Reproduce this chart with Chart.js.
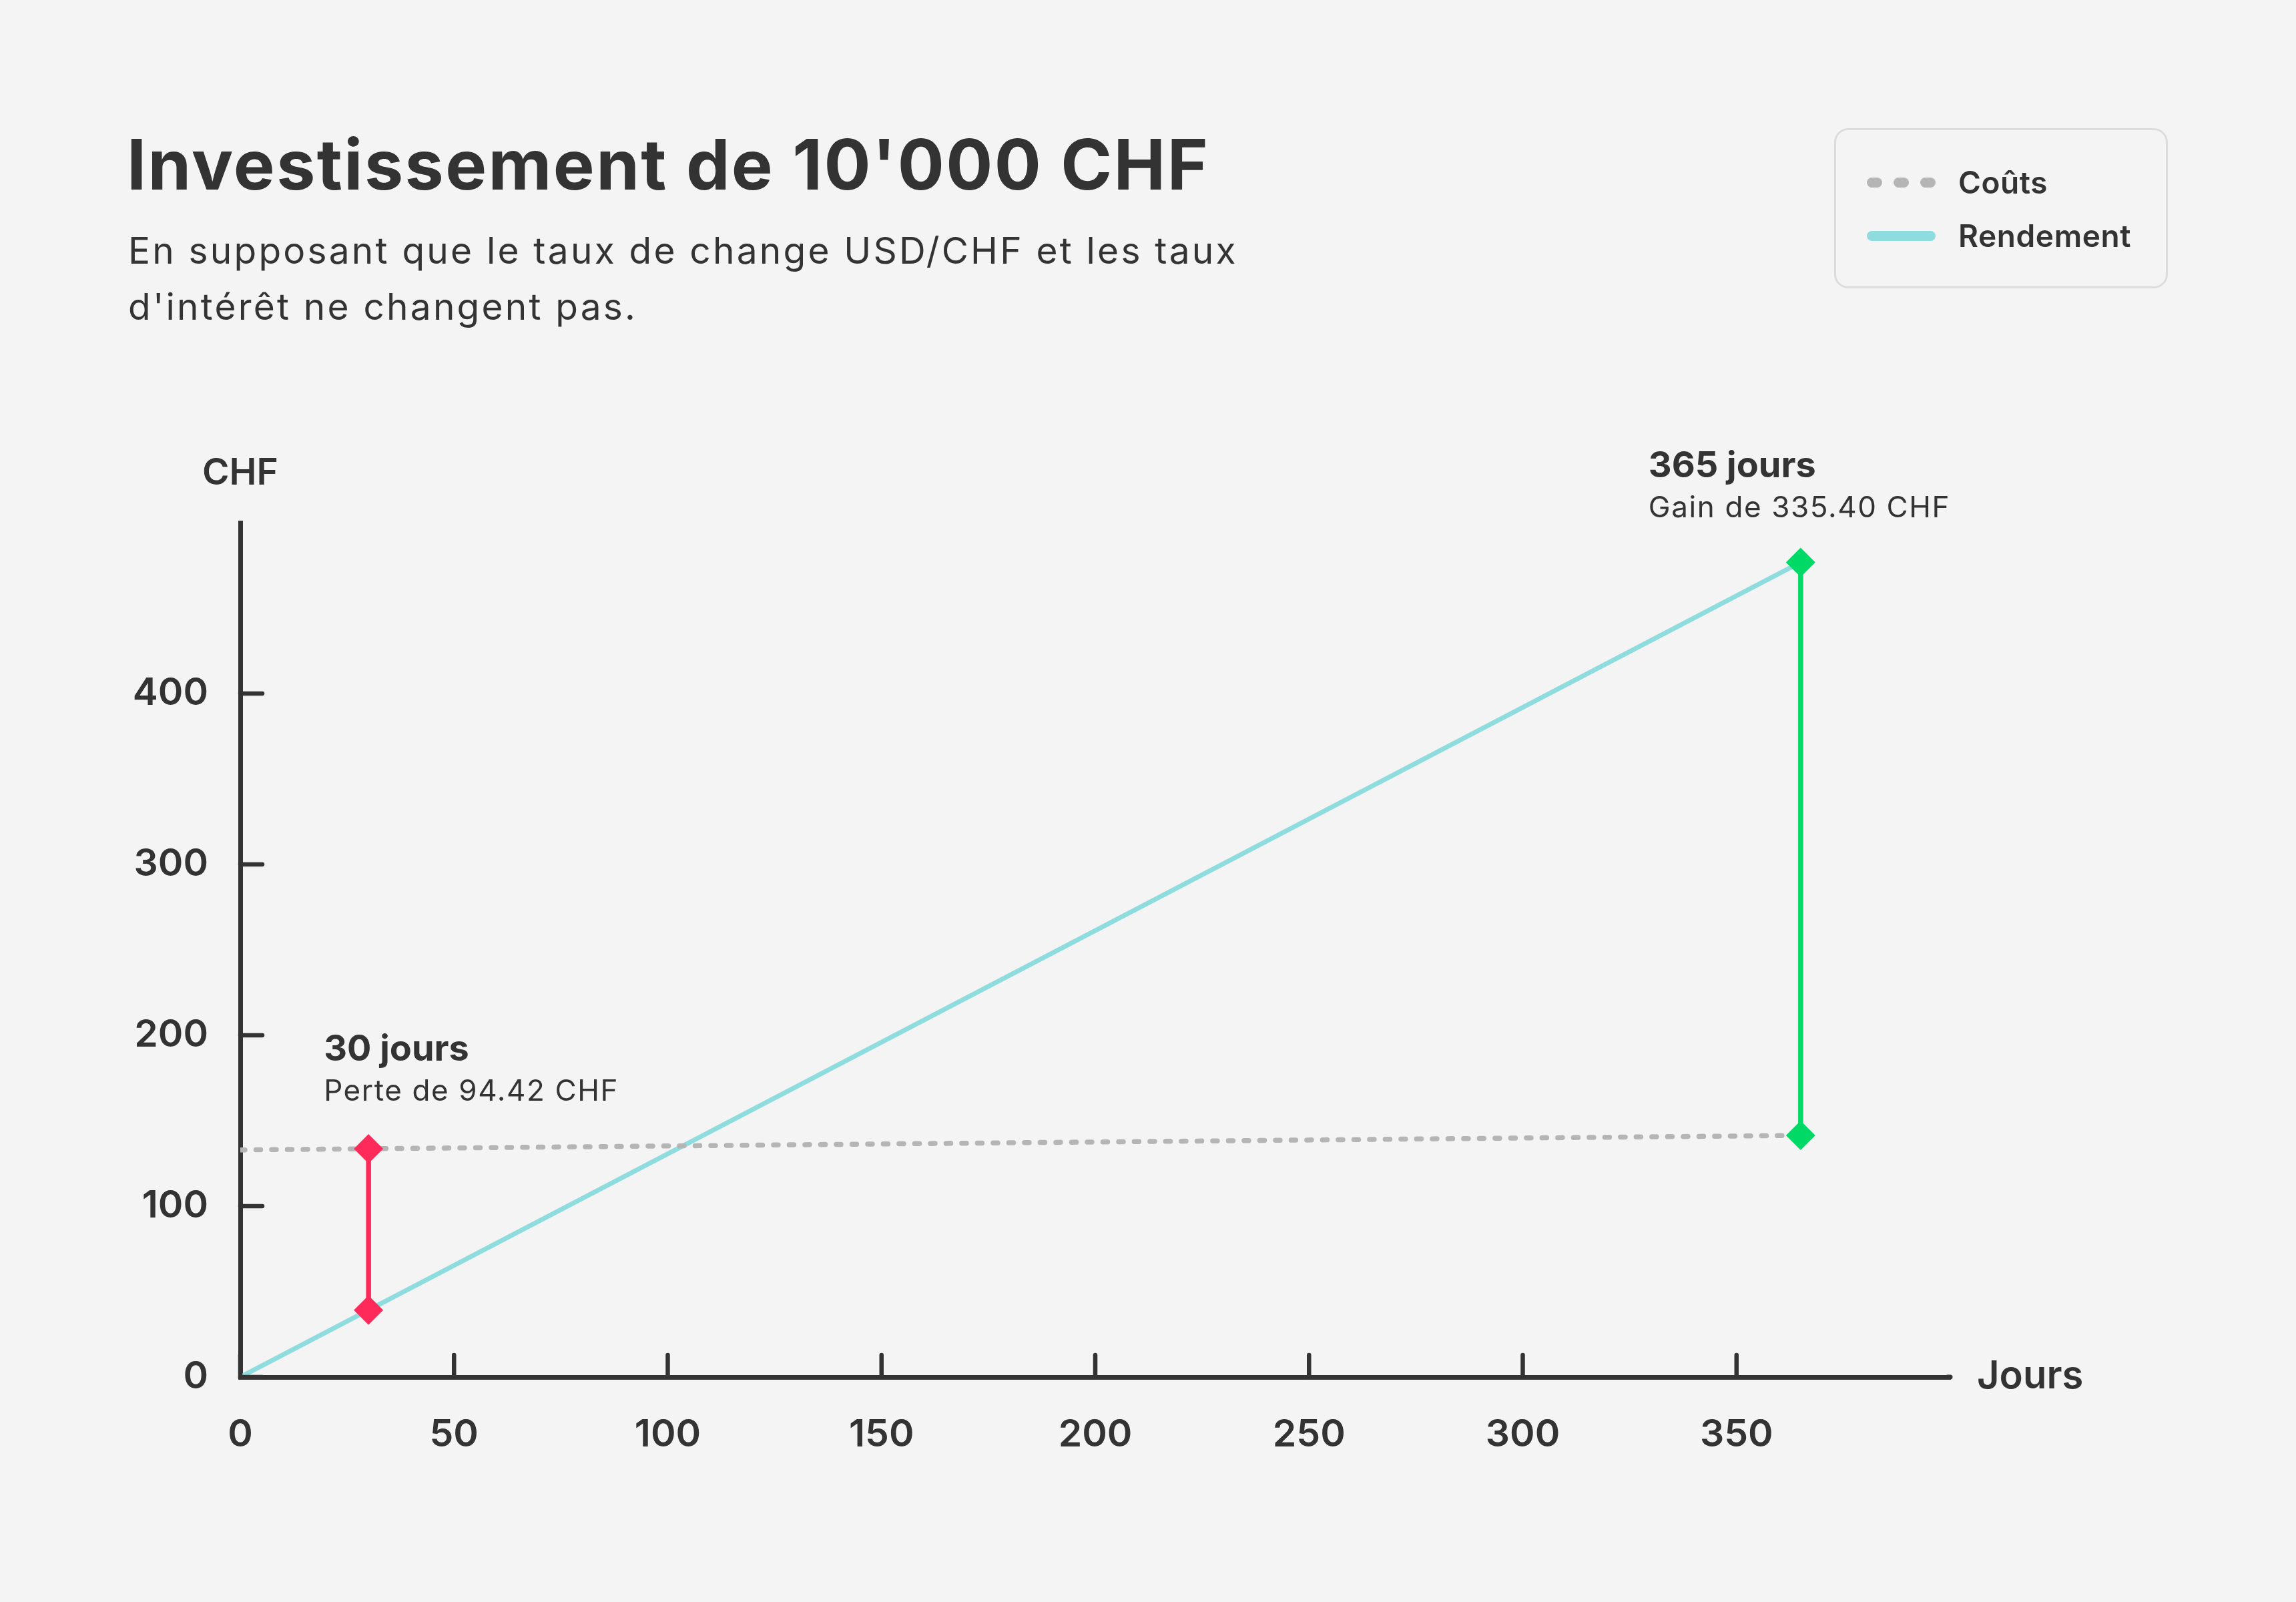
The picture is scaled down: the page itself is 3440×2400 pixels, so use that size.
<!DOCTYPE html>
<html lang="fr">
<head>
<meta charset="utf-8">
<title>Investissement de 10'000 CHF</title>
<script src="https://cdn.jsdelivr.net/npm/chart.js@4.4.1/dist/chart.umd.min.js"></script>
<style>
    html, body { margin: 0; padding: 0; }
    body {
        width: 3440px; height: 2400px; overflow: hidden;
        background: #f4f4f4; position: relative;
        font-family: Inter, 'Noto Sans', sans-serif; color: #333;
    }
    #myChart { position: absolute; left: 0; top: 0; }
    h1 {
        position: absolute; left: 190px; top: 194px; margin: 0; white-space: nowrap;
        font-size: 104px; line-height: 104px; font-weight: 700; letter-spacing: 2.4px;
    }
    .sub {
        position: absolute; left: 192px; top: 333px; margin: 0; width: 2000px;
        font-size: 55px; line-height: 84px; font-weight: 400; letter-spacing: 3.2px;
    }
    #legend {
        position: absolute; left: 2748px; top: 192px; width: 500px; height: 240px;
        box-sizing: border-box; border: 3px solid #dcdcdc; border-radius: 21px;
    }
    .item { position: absolute; left: 46px; height: 60px; display: flex; align-items: center; }
    .item span.txt {
        position: absolute; left: 137px; font-size: 46px; font-weight: 600;
        white-space: nowrap; letter-spacing: 0.6px;
    }
    .sym { position: absolute; left: 0; width: 103px; height: 15px; }
    .pill { position: absolute; top: 0; height: 15px; border-radius: 8px; }
</style>
</head>
<body>
<canvas id="myChart" width="3440" height="2400"></canvas>
<h1>Investissement de 10'000 CHF</h1>
<p class="sub">En supposant que le taux de change USD/CHF et les taux<br>d'intérêt ne changent pas.</p>
<div id="legend"></div>
<script>
// data
const days = [0, 30, 365];
const couts = [132.9, 133.6, 141.4];
const rendement = [0, 39.2, 476.8];
const perteDays = [30, 30];
const perteValues = [133.6, 39.2];
const gainDays = [365, 365];
const gainValues = [141.4, 476.8];
const xTicks = [0, 50, 100, 150, 200, 250, 300, 350];
const yTicks = [0, 100, 200, 300, 400];
const noteTitles = ['30 jours', '365 jours'];
const noteTexts = ['Perte de 94.42 CHF', 'Gain de 335.40 CHF'];

const dark = '#333333';
const grey = '#b5b5b5';
const cyan = '#8fdcdf';
const red = '#ff2a59';
const green = '#00d966';
const font = 'Inter, "Noto Sans", sans-serif';

function points(xs, ys) {
    return xs.map((x, i) => ({ x: x, y: ys[i] }));
}

// small tick marks drawn inward from the axes, plus the axis titles
const innerTicks = {
    id: 'innerTicks',
    afterDatasetsDraw(chart) {
        const ctx = chart.ctx;
        const x = chart.scales.x;
        const y = chart.scales.y;
        const len = 33;
        ctx.save();
        ctx.strokeStyle = dark;
        ctx.lineWidth = 6.5;
        ctx.lineCap = 'round';
        x.ticks.forEach(t => {
            const px = x.getPixelForValue(t.value);
            ctx.beginPath();
            ctx.moveTo(px, x.top);
            ctx.lineTo(px, x.top - len);
            ctx.stroke();
        });
        y.ticks.forEach(t => {
            const py = y.getPixelForValue(t.value);
            ctx.beginPath();
            ctx.moveTo(y.right, py);
            ctx.lineTo(y.right + len, py);
            ctx.stroke();
        });
        // round end of the x axis
        ctx.beginPath();
        ctx.moveTo(x.right - 4, x.top);
        ctx.lineTo(x.right, x.top);
        ctx.lineWidth = 7;
        ctx.stroke();
        ctx.fillStyle = dark;
        ctx.font = '600 55px ' + font;
        ctx.textAlign = 'center';
        ctx.textBaseline = 'middle';
        ctx.fillText('CHF', y.right, 709);
        ctx.font = '600 58px ' + font;
        ctx.textAlign = 'left';
        ctx.fillText('Jours', x.right + 40, x.top);
        ctx.restore();
    }
};

// labels above the two markers
const notes = {
    id: 'notes',
    afterDatasetsDraw(chart, args, opts) {
        const ctx = chart.ctx;
        const xs = chart.scales.x;
        const ys = chart.scales.y;
        ctx.save();
        ctx.fillStyle = dark;
        ctx.textAlign = 'left';
        ctx.textBaseline = 'middle';
        opts.items.forEach((n, i) => {
            const px = xs.getPixelForValue(n.day) + n.dx;
            const py = ys.getPixelForValue(n.value) + n.dy;
            ctx.letterSpacing = '0px';
            ctx.font = '700 54px ' + font;
            ctx.fillText(noteTitles[i], px, py);
            ctx.letterSpacing = '1.6px';
            ctx.font = '400 44px ' + font;
            ctx.fillText(noteTexts[i], px, py + 63);
        });
        ctx.restore();
    }
};

window.addEventListener('load', setup);
function setup() {
    const ctx = document.getElementById('myChart').getContext('2d');
    const myChart = new Chart(ctx, {
        type: 'line',
        data: {
            datasets: [
                {
                    label: 'Coûts',
                    data: points(days, couts),
                    borderColor: grey,
                    borderWidth: 7.5,
                    borderDash: [7, 16.5],
                    borderCapStyle: 'round',
                    pointRadius: 0,
                    order: 2
                },
                {
                    label: 'Rendement',
                    data: points(days, rendement),
                    borderColor: cyan,
                    borderWidth: 7,
                    pointRadius: 0,
                    order: 2
                },
                {
                    data: points(perteDays, perteValues),
                    borderColor: red,
                    backgroundColor: red,
                    borderWidth: 7.5,
                    pointStyle: 'rectRot',
                    pointRadius: 22,
                    pointBorderWidth: 0,
                    order: 1
                },
                {
                    data: points(gainDays, gainValues),
                    borderColor: green,
                    backgroundColor: green,
                    borderWidth: 7.5,
                    pointStyle: 'rectRot',
                    pointRadius: 22,
                    pointBorderWidth: 0,
                    order: 1
                }
            ]
        },
        options: {
            responsive: false,
            devicePixelRatio: 1,
            animation: false,
            layout: { padding: { top: 783, right: 518, bottom: 0, left: 0 } },
            plugins: {
                legend: { display: false },
                tooltip: { enabled: false },
                notes: {
                    items: [
                        { day: 30, value: 133.6, dx: -67, dy: -148 },
                        { day: 365, value: 476.8, dx: -228, dy: -144 }
                    ]
                }
            },
            scales: {
                x: {
                    type: 'linear',
                    min: 0,
                    max: 400,
                    afterBuildTicks: axis => { axis.ticks = xTicks.map(v => ({ value: v })); },
                    afterFit: axis => { axis.height = 337; },
                    grid: { display: false, drawTicks: false },
                    border: { color: dark, width: 7 },
                    ticks: {
                        padding: 53,
                        color: dark,
                        font: { family: font, size: 57, weight: '600' },
                        maxRotation: 0
                    }
                },
                y: {
                    min: 0,
                    max: 500,
                    afterBuildTicks: axis => { axis.ticks = yTicks.map(v => ({ value: v })); },
                    afterFit: axis => { axis.width = 360; },
                    grid: { display: false, drawTicks: false },
                    border: { color: dark, width: 7 },
                    ticks: {
                        padding: 48,
                        color: dark,
                        font: { family: font, size: 57, weight: '600' }
                    }
                }
            }
        },
        plugins: [innerTicks, notes]
    });
    buildLegend(myChart);
}

function buildLegend(chart) {
    const box = document.getElementById('legend');
    const rows = [48, 128];
    chart.data.datasets.filter(ds => ds.label).forEach((ds, i) => {
        const item = document.createElement('div');
        item.className = 'item';
        item.style.top = rows[i] + 'px';
        const sym = document.createElement('div');
        sym.className = 'sym';
        const pills = ds.borderDash ? [[0, 23], [40, 23], [80, 23]] : [[0, 103]];
        pills.forEach(p => {
            const pill = document.createElement('div');
            pill.className = 'pill';
            pill.style.left = p[0] + 'px';
            pill.style.width = p[1] + 'px';
            pill.style.background = ds.borderColor;
            sym.appendChild(pill);
        });
        const txt = document.createElement('span');
        txt.className = 'txt';
        txt.textContent = ds.label;
        item.appendChild(sym);
        item.appendChild(txt);
        box.appendChild(item);
    });
}
</script>
</body>
</html>
